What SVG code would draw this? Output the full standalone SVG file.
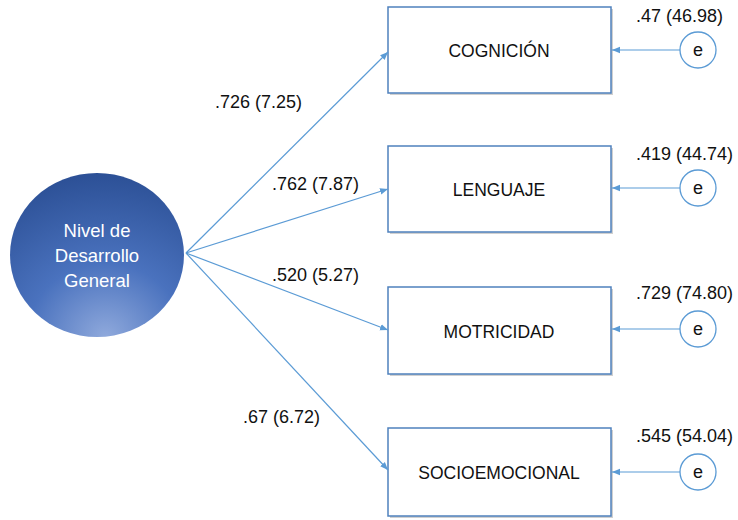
<svg xmlns="http://www.w3.org/2000/svg" width="738" height="520" viewBox="0 0 738 520">
<style>
.box{fill:#ffffff;stroke:#4f81bd;stroke-width:1.5}
.shadow{fill:#d0d0d0}
.lbl{font-family:"Liberation Sans",Arial,sans-serif;font-size:17.5px;fill:#111111;text-anchor:middle}
.num{font-family:"Liberation Sans",Arial,sans-serif;font-size:18px;fill:#111111}
.err{fill:#ffffff;stroke:#5b9bd5;stroke-width:1.3}
.etxt{font-family:"Liberation Sans",Arial,sans-serif;font-size:18px;fill:#111111;text-anchor:middle}
.con{stroke:#5b9bd5;stroke-width:1.2;fill:none;marker-end:url(#arr)}
.lat{font-family:"Liberation Sans",Arial,sans-serif;font-size:18.5px;fill:#ffffff;text-anchor:middle}
</style>
<defs>
<marker id="arr" markerWidth="8" markerHeight="8" refX="8" refY="4" orient="auto" markerUnits="userSpaceOnUse">
<path d="M0,0.8 L8,4 L0,7.2 Z" fill="#5b9bd5"/>
</marker>
<radialGradient id="g" cx="0.55" cy="1.0" r="1.0" fx="0.55" fy="1.0">
<stop offset="0" stop-color="#8fa9dc"/>
<stop offset="0.45" stop-color="#4a72be"/>
<stop offset="1" stop-color="#2c5096"/>
</radialGradient>
</defs>

<g id="latent">
<ellipse cx="97" cy="255" rx="87" ry="82" fill="url(#g)"/>
<text class="lat" x="97" y="237">Nivel de</text>
<text class="lat" x="97" y="262">Desarrollo</text>
<text class="lat" x="97" y="287">General</text>
</g>

<g id="cognicion">
<rect class="shadow" x="390" y="9" width="223" height="86"/>
<rect class="box" x="388" y="7" width="223" height="86"/>
<text class="lbl" x="499" y="57">COGNICIÓN</text>
</g>
<g id="lenguaje">
<rect class="shadow" x="390" y="148" width="223" height="86"/>
<rect class="box" x="388" y="146" width="223" height="86"/>
<text class="lbl" x="499" y="196">LENGUAJE</text>
</g>
<g id="motricidad">
<rect class="shadow" x="390" y="289" width="223" height="87"/>
<rect class="box" x="388" y="287" width="223" height="87"/>
<text class="lbl" x="499" y="338">MOTRICIDAD</text>
</g>
<g id="socioemocional">
<rect class="shadow" x="390" y="430" width="223" height="88"/>
<rect class="box" x="388" y="428" width="223" height="88"/>
<text class="lbl" x="499" y="479">SOCIOEMOCIONAL</text>
</g>

<g id="e1">
<circle class="err" cx="698" cy="50" r="18"/>
<text class="etxt" x="698" y="56">e</text>
<text class="num" x="636" y="22">.47 (46.98)</text>
</g>
<g id="e2">
<circle class="err" cx="698" cy="188" r="18"/>
<text class="etxt" x="698" y="194">e</text>
<text class="num" x="636" y="160">.419 (44.74)</text>
</g>
<g id="e3">
<circle class="err" cx="698" cy="329" r="18"/>
<text class="etxt" x="698" y="335">e</text>
<text class="num" x="636" y="299">.729 (74.80)</text>
</g>
<g id="e4">
<circle class="err" cx="698" cy="472" r="18"/>
<text class="etxt" x="698" y="478">e</text>
<text class="num" x="636" y="442">.545 (54.04)</text>
</g>

<g id="connectors">
<line class="con" x1="186" y1="253" x2="388" y2="52"/>
<line class="con" x1="186" y1="253" x2="388" y2="189"/>
<line class="con" x1="186" y1="253" x2="388" y2="330"/>
<line class="con" x1="186" y1="253" x2="388" y2="470"/>
<line class="con" x1="680" y1="50" x2="612" y2="50"/>
<line class="con" x1="680" y1="188" x2="612" y2="188"/>
<line class="con" x1="680" y1="329" x2="612" y2="329"/>
<line class="con" x1="680" y1="472" x2="612" y2="472"/>
<text class="num" x="215" y="108">.726 (7.25)</text>
<text class="num" x="272" y="190">.762 (7.87)</text>
<text class="num" x="272" y="281">.520 (5.27)</text>
<text class="num" x="243" y="423">.67 (6.72)</text>
</g>
</svg>
